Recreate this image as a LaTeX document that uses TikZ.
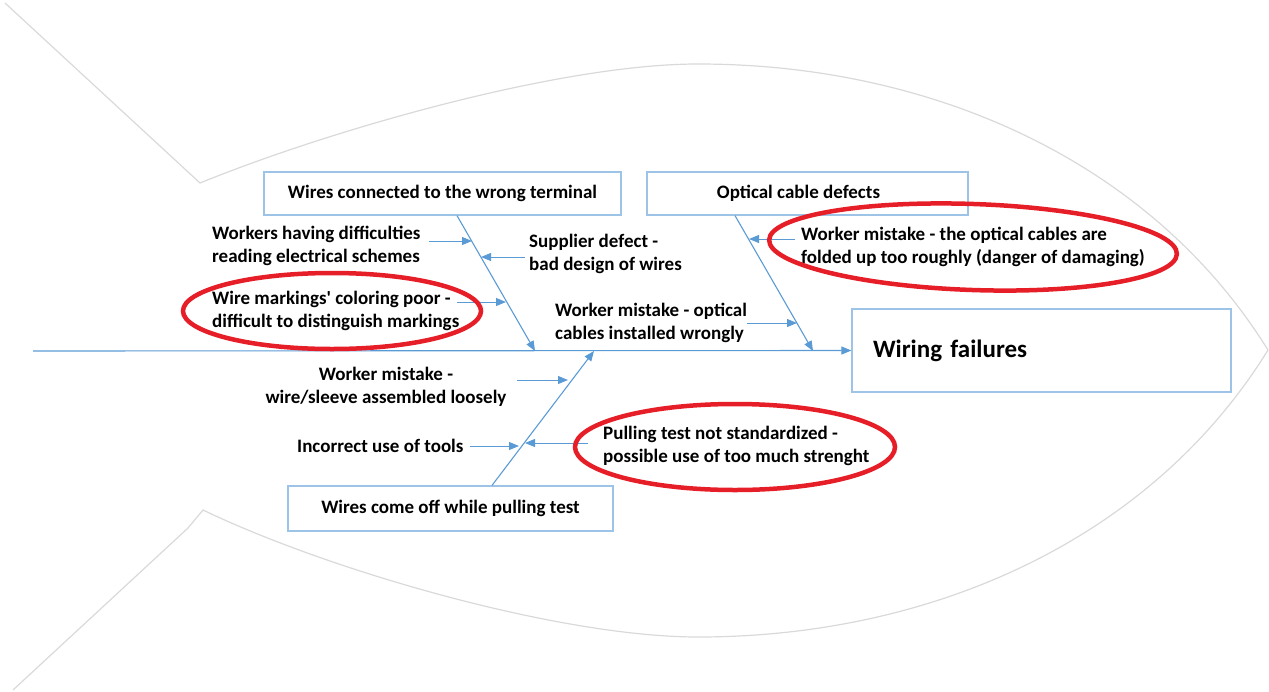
\documentclass[tikz,border=0pt]{standalone}
\usepackage{fontspec}
\setmainfont{Carlito}
\usetikzlibrary{arrows.meta}
\definecolor{boneblue}{HTML}{5B9BD5}
\definecolor{boxblue}{HTML}{9DC3E6}
\definecolor{fishgray}{HTML}{D9D9D9}
\definecolor{markred}{HTML}{E61E28}

\begin{document}
\begin{tikzpicture}[x=1pt,y=-1pt,
  txt/.style={font=\fontsize{19}{23}\selectfont\bfseries, inner sep=0pt, align=left, anchor=west},
  ctxt/.style={font=\fontsize{19}{23}\selectfont\bfseries, inner sep=0pt, align=center},
  causebox/.style={draw=boxblue, line width=1.2pt, inner sep=0pt,
    font=\fontsize{19}{23}\selectfont\bfseries, align=center},
  bone/.style={draw=boneblue, line width=1.1pt, -{Triangle[length=10pt,width=8pt]}},
  twig/.style={draw=boneblue, line width=1pt, -{Triangle[length=10pt,width=8pt]}},
  fish/.style={draw=fishgray, line width=1.2pt},
  ring/.style={draw=markred, line width=4.5pt}
]
\useasboundingbox (0,0) rectangle (1269,691);

% fish outline
\path[fish] (5,3) -- (200,183)
  .. controls (330,130) and (560,64) .. (698,64)
  .. controls (930,64) and (1150,160) .. (1268,350)
  .. controls (1150,541) and (930,637) .. (698,637)
  .. controls (560,637) and (330,571) .. (203,510)
  -- (188,528) -- (13,690);

% effect
\node[draw=boxblue, line width=1.2pt, minimum width=379pt, minimum height=83pt,
  text width=337pt, inner xsep=21pt, align=left,
  font=\fontsize{25}{30}\selectfont\bfseries] (effect) at (1041.5,350.5) {Wiring failures};

% spine
\coordinate (tail) at (33,351);
\draw[bone] (tail) -- (effect.west);

% main causes
\node[causebox, minimum width=357pt, minimum height=43pt] (wrongterm) at (442.5,193.5)
  {Wires connected to the wrong terminal};
\node[causebox, minimum width=321pt, minimum height=43pt] (optical) at (807.5,193.5)
  {\hspace*{-18pt}Optical cable defects};
\node[causebox, minimum width=325pt, minimum height=45pt] (pulloff) at (450.5,508.5)
  {Wires come off while pulling test};

% junctions on the spine
\coordinate (j1) at (535,351);
\coordinate (j2) at (813,351);
\coordinate (j3) at (594,351);

\draw[bone] ([xshift=14.5pt]wrongterm.south) -- (j1);
\draw[bone] ([xshift=-72.5pt]optical.south) -- (j2);
\draw[bone] ([xshift=41.5pt]pulloff.north) -- (j3);

% sub-causes
\node[txt] (schemes) at (212,245.5) {Workers having difficulties\\reading electrical schemes};
\node[txt] (supplier) at (529,253.5) {Supplier defect -\\bad design of wires};
\node[txt] (markings) at (212,311) {Wire markings\textquotesingle{} coloring poor -\\difficult to distinguish markings};
\node[txt] (installed) at (555,323) {Worker mistake - optical\\cables installed wrongly};
\node[txt] (folded) at (801,246.5) {Worker mistake - the optical cables are\\folded up too roughly (danger of damaging)};
\node[ctxt] (loose) at (386,386.5) {Worker mistake -\\wire/sleeve assembled loosely};
\node[txt] (tools) at (297,446) {Incorrect use of tools};
\node[txt] (strength) at (603,446) {Pulling test not standardized -\\possible use of too much strenght};

% twig ends
\coordinate (a1s) at (429,241);  \coordinate (a1e) at (472,241);
\coordinate (a2s) at (525,257);  \coordinate (a2e) at (481,257);
\coordinate (a3s) at (457,302);  \coordinate (a3e) at (506,302);
\coordinate (a4s) at (747,323);  \coordinate (a4e) at (797,323);
\coordinate (a5s) at (795,239);  \coordinate (a5e) at (749,239);
\coordinate (a6s) at (517,380);  \coordinate (a6e) at (568,380);
\coordinate (a7s) at (470,446);  \coordinate (a7e) at (519,446);
\coordinate (a8s) at (588,443);  \coordinate (a8e) at (525,443);

\draw[twig] (a1s) -- (a1e);
\draw[twig] (a2s) -- (a2e);
\draw[twig] (a3s) -- (a3e);
\draw[twig] (a4s) -- (a4e);
\draw[twig] (a5s) -- (a5e);
\draw[twig] (a6s) -- (a6e);
\draw[twig] (a7s) -- (a7e);
\draw[twig] (a8s) -- (a8e);

% highlighted causes
\draw[ring] (332,311) ellipse [x radius=149, y radius=38];
\draw[ring, rotate around={-2:(973,247)}] (973,247) ellipse [x radius=204, y radius=43];
\draw[ring] (735,447) ellipse [x radius=160, y radius=43];
\end{tikzpicture}
\end{document}
